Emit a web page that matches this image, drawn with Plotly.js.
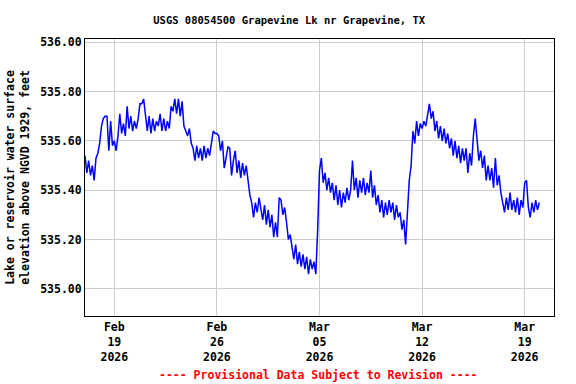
<!DOCTYPE html>
<html>
<head>
<meta charset="utf-8">
<script src="https://cdn.plot.ly/plotly-3.0.1.min.js"></script>
<style>html,body{margin:0;padding:0;background:#fff;}#chart{width:576px;height:384px;}</style>
</head>
<body>
<div id="chart"></div>
<script>
// Gage height readings, 3-hourly from 2026-02-17 00:00 (feet, NGVD 1929)
const startTime = '2026-02-17T00:00:00';
const stepHours = 3;
const elevation = [
  535.54, 535.47, 535.52, 535.46, 535.50, 535.44, 535.53, 535.55, // Feb 17
  535.59, 535.66, 535.69, 535.70, 535.70, 535.56, 535.68, 535.58, // Feb 18
  535.60, 535.56, 535.62, 535.71, 535.63, 535.67, 535.62, 535.74, // Feb 19
  535.65, 535.70, 535.64, 535.68, 535.65, 535.69, 535.75, 535.75, // Feb 20
  535.77, 535.69, 535.64, 535.70, 535.63, 535.69, 535.64, 535.68, // Feb 21
  535.66, 535.71, 535.64, 535.69, 535.64, 535.68, 535.65, 535.74, // Feb 22
  535.72, 535.77, 535.71, 535.77, 535.70, 535.76, 535.66, 535.64, // Feb 23
  535.62, 535.65, 535.59, 535.57, 535.52, 535.58, 535.53, 535.57, // Feb 24
  535.52, 535.58, 535.53, 535.57, 535.54, 535.59, 535.64, 535.63, // Feb 25
  535.63, 535.62, 535.56, 535.60, 535.49, 535.53, 535.575, 535.57, // Feb 26
  535.46, 535.52, 535.56, 535.47, 535.52, 535.45, 535.51, 535.46, // Feb 27
  535.50, 535.44, 535.38, 535.35, 535.29, 535.35, 535.31, 535.37, // Feb 28
  535.33, 535.28, 535.34, 535.26, 535.32, 535.25, 535.30, 535.21, // Mar 01
  535.27, 535.21, 535.37, 535.36, 535.30, 535.33, 535.27, 535.20, // Mar 02
  535.22, 535.16, 535.12, 535.18, 535.10, 535.15, 535.09, 535.14, // Mar 03
  535.08, 535.13, 535.06, 535.12, 535.08, 535.11, 535.06, 535.24, // Mar 04
  535.48, 535.53, 535.43, 535.47, 535.40, 535.45, 535.39, 535.43, // Mar 05
  535.36, 535.42, 535.34, 535.40, 535.33, 535.39, 535.35, 535.41, // Mar 06
  535.36, 535.40, 535.52, 535.40, 535.45, 535.37, 535.44, 535.39, // Mar 07
  535.45, 535.38, 535.43, 535.39, 535.48, 535.37, 535.42, 535.34, // Mar 08
  535.38, 535.31, 535.36, 535.29, 535.35, 535.30, 535.36, 535.31, // Mar 09
  535.35, 535.28, 535.34, 535.29, 535.31, 535.24, 535.28, 535.18, // Mar 10
  535.32, 535.44, 535.50, 535.64, 535.59, 535.68, 535.62, 535.67, // Mar 11
  535.65, 535.68, 535.66, 535.70, 535.75, 535.69, 535.72, 535.64, // Mar 12
  535.68, 535.61, 535.66, 535.60, 535.65, 535.59, 535.63, 535.57, // Mar 13
  535.61, 535.54, 535.60, 535.53, 535.58, 535.51, 535.57, 535.52, // Mar 14
  535.57, 535.47, 535.55, 535.50, 535.62, 535.69, 535.60, 535.52, // Mar 15
  535.56, 535.49, 535.54, 535.44, 535.50, 535.44, 535.49, 535.41, // Mar 16
  535.53, 535.42, 535.46, 535.39, 535.35, 535.31, 535.37, 535.32, // Mar 17
  535.39, 535.32, 535.36, 535.31, 535.37, 535.30, 535.36, 535.33, // Mar 18
  535.43, 535.44, 535.33, 535.29, 535.35, 535.31, 535.36, 535.32, // Mar 19
  535.35                                                          // Mar 20
];

const xTickVals = ['2026-02-19', '2026-02-26', '2026-03-05', '2026-03-12', '2026-03-19'];
const xTickText = ['Feb<br>19<br>2026', 'Feb<br>26<br>2026', 'Mar<br>05<br>2026', 'Mar<br>12<br>2026', 'Mar<br>19<br>2026'];
const yTickVals = [535.00, 535.20, 535.40, 535.60, 535.80, 536.00];
const yTickText = ['535.00', '535.20', '535.40', '535.60', '535.80', '536.00'];

const t0 = new Date(startTime + 'Z').getTime();
const times = elevation.map((_, i) => {
  const d = new Date(t0 + i * stepHours * 3600 * 1000);
  return d.toISOString().slice(0, 19).replace('T', ' ');
});

const FONT = '"DejaVu Sans Mono", "Liberation Mono", monospace';

const trace = {
  type: 'scatter',
  mode: 'lines',
  x: times,
  y: elevation,
  line: {color: '#0000ff', width: 1.5, shape: 'linear'},
  hoverinfo: 'x+y'
};

const layout = {
  width: 576,
  height: 384,
  margin: {l: 85, r: 22, t: 39, b: 68},
  paper_bgcolor: '#ffffff',
  plot_bgcolor: '#ffffff',
  showlegend: false,
  font: {family: FONT, color: '#000000', size: 11.5, weight: 'bold'},
  title: {
    text: 'USGS 08054500 Grapevine Lk nr Grapevine, TX',
    font: {family: FONT, size: 10.5, color: '#000000', weight: 'bold'},
    x: 0.502, xanchor: 'center', xref: 'container',
    y: 0.948, yanchor: 'middle', yref: 'container'
  },
  xaxis: {
    type: 'date',
    range: ['2026-02-17 00:00', '2026-03-21 00:00'],
    tickmode: 'array',
    tickvals: xTickVals,
    ticktext: xTickText,
    tickangle: 0,
    ticks: '',
    showgrid: true,
    gridcolor: '#cccccc',
    gridwidth: 1,
    showline: true,
    linecolor: '#000000',
    linewidth: 1,
    mirror: true,
    zeroline: false,
    tickfont: {family: FONT, size: 11.5, color: '#000000', weight: 'bold'}
  },
  yaxis: {
    range: [534.89, 536.013],
    tickmode: 'array',
    tickvals: yTickVals,
    ticktext: yTickText,
    ticks: '',
    showgrid: true,
    gridcolor: '#cccccc',
    gridwidth: 1,
    showline: true,
    linecolor: '#000000',
    linewidth: 1,
    mirror: true,
    zeroline: false,
    tickfont: {family: FONT, size: 11.5, color: '#000000', weight: 'bold'},
    title: {
      text: 'Lake or reservoir water surface<br>elevation above NGVD 1929, feet',
      font: {family: FONT, size: 11.5, color: '#000000', weight: 'bold'},
      standoff: 8
    }
  },
  annotations: [{
    text: '---- Provisional Data Subject to Revision ----',
    xref: 'paper', yref: 'paper',
    x: 0.497, y: -0.213,
    xanchor: 'center', yanchor: 'middle',
    showarrow: false,
    font: {family: FONT, size: 11.5, color: '#ff0000', weight: 'bold'}
  }]
};

Plotly.newPlot('chart', [trace], layout, {displayModeBar: false, staticPlot: true});
</script>
</body>
</html>
